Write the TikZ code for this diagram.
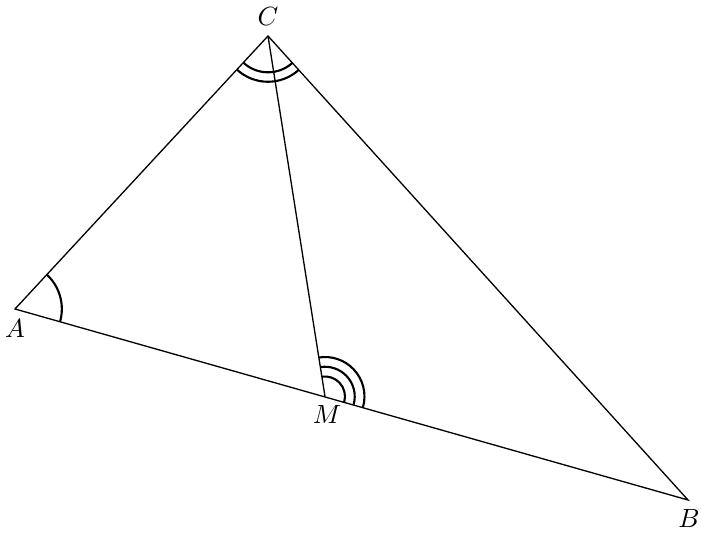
\documentclass[tikz,border=0pt]{standalone}
\usetikzlibrary{angles}
\begin{document}
\begin{tikzpicture}[x=0.38pt,y=0.38pt,
  lbl/.style={inner sep=0pt,font=\normalsize},
  angmark/.style={draw,line width=0.8pt}]
\useasboundingbox (0,0) rectangle (701,535);
\coordinate (A) at (15,226);
\coordinate (C) at (268,499);
\coordinate (B) at (688,35);
\coordinate (M) at (325,138.5);
\draw[line width=0.5pt] (A) -- (C) -- (B) -- cycle;
\draw[line width=0.5pt] (C) -- (M);
\pic[angmark,angle radius=13.8pt] {angle=A--C--B};
\pic[angmark,angle radius=17.4pt] {angle=A--C--B};
\pic[angmark,angle radius=17.8pt] {angle=B--A--C};
\pic[angmark,angle radius=7.6pt] {angle=B--M--C};
\pic[angmark,angle radius=11.3pt] {angle=B--M--C};
\pic[angmark,angle radius=15pt] {angle=B--M--C};
\node[lbl] (lC) at (268,518) {$C$};
\node[lbl] (lA) at (15,206) {$A$};
\node[lbl] (lM) at (327,120) {$M$};
\node[lbl] (lB) at (689,16) {$B$};
\end{tikzpicture}
\end{document}
